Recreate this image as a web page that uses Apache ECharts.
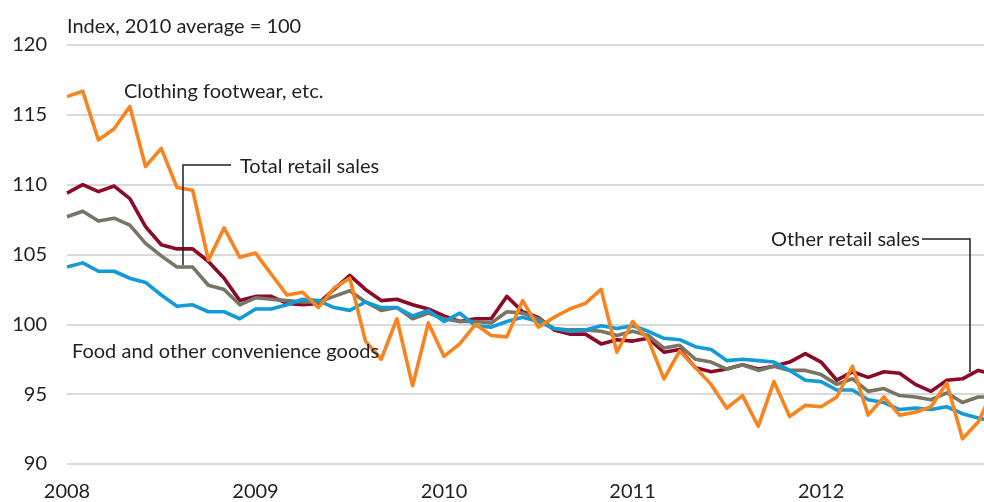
<!DOCTYPE html>
<html>
<head>
<meta charset="utf-8">
<script src="https://cdn.jsdelivr.net/npm/echarts@6/dist/echarts.min.js"></script>
<style>
html,body{margin:0;padding:0;background:#fff;}
#chart{width:984px;height:502px;}
</style>
</head>
<body>
<div id="chart"></div>
<script>
// Monthly index, Jan 2008 .. Dec 2012 (index 0..59)
const yearLabels = ['2008', '2009', '2010', '2011', '2012'];
const clothing = [116.3,116.7,113.2,114.0,115.6,111.3,112.6,109.8,109.6,104.6,106.9,104.8,
  105.1,103.6,102.1,102.3,101.2,102.6,103.3,98.8,97.5,100.4,95.6,100.1,
  97.7,98.6,100.0,99.2,99.1,101.7,99.8,100.5,101.1,101.5,102.5,98.0,
  100.2,98.9,96.1,98.1,96.9,95.7,94.0,94.9,92.7,95.9,93.4,94.2,
  94.1,94.8,97.0,93.5,94.8,93.5,93.7,94.1,95.8,91.8,93.0,95.4];
const otherRetail = [109.4,110.0,109.5,109.9,109.0,107.0,105.7,105.4,105.4,104.5,103.3,101.7,
  102.0,102.0,101.5,101.4,101.5,102.5,103.5,102.5,101.7,101.8,101.4,101.1,
  100.6,100.2,100.4,100.4,102.0,100.9,100.5,99.6,99.3,99.3,98.6,98.9,
  98.8,99.0,98.0,98.2,96.9,96.6,96.8,97.1,96.8,97.0,97.3,97.9,
  97.3,96.0,96.6,96.2,96.6,96.5,95.7,95.2,96.0,96.1,96.7,96.4];
const totalRetail = [107.7,108.1,107.4,107.6,107.1,105.8,104.9,104.1,104.1,102.8,102.5,101.4,
  101.9,101.8,101.7,101.6,101.6,102.0,102.4,101.6,101.0,101.2,100.4,100.8,
  100.4,100.2,100.2,100.1,100.9,100.8,100.4,99.7,99.6,99.6,99.5,99.2,
  99.5,99.2,98.3,98.5,97.5,97.3,96.8,97.1,96.7,97.0,96.7,96.7,
  96.4,95.7,96.1,95.2,95.4,94.9,94.8,94.6,95.1,94.4,94.8,94.8];
const food = [104.1,104.4,103.8,103.8,103.3,103.0,102.1,101.3,101.4,100.9,100.9,100.4,
  101.1,101.1,101.4,101.8,101.7,101.2,101.0,101.6,101.2,101.2,100.6,101.0,
  100.2,100.8,99.9,99.8,100.2,100.5,100.2,99.7,99.5,99.6,99.9,99.7,
  99.9,99.5,99.0,98.9,98.4,98.2,97.4,97.5,97.4,97.3,96.7,96.0,
  95.9,95.3,95.3,94.6,94.4,93.9,94.0,93.9,94.1,93.6,93.3,93.0];

const FONT = 'Lato';
const TXT = '#231f20';
const pairs = arr => arr.map((v, i) => [i, v]);

const chart = echarts.init(document.getElementById('chart'), null, {renderer: 'canvas'});

function mkSeries(name, data, color) {
  return {
    name, type: 'line', data: pairs(data), symbol: 'none', clip: true,
    lineStyle: {color, width: 3.6, join: 'round'}, itemStyle: {color},
    emphasis: {disabled: true}
  };
}

function txt(text, x, y, align) {
  return {type: 'text', x, y, z: 100,
    style: {text, fill: TXT, font: '20px ' + FONT, align: align || 'left', verticalAlign: 'middle'}};
}
function pl(points) {
  return {type: 'polyline', z: 100, shape: {points}, style: {stroke: TXT, lineWidth: 1.5, fill: null}};
}

chart.setOption({
  animation: false,
  textStyle: {fontFamily: FONT},
  grid: {left: 67, right: 0, top: 45, bottom: 37, containLabel: false},
  xAxis: {
    type: 'value', min: 0, max: 58.37, interval: 12,
    axisLine: {show: false}, axisTick: {show: false}, splitLine: {show: false},
    axisLabel: {
      color: TXT, fontSize: 20, fontFamily: FONT, margin: 18, showMaxLabel: false,
      formatter: v => (v % 12 === 0 ? yearLabels[v / 12] : '')
    }
  },
  yAxis: {
    type: 'value', min: 90, max: 120, interval: 5,
    axisLine: {show: false}, axisTick: {show: false},
    splitLine: {lineStyle: {color: '#d9d9d9', width: 2}},
    axisLabel: {color: TXT, fontSize: 20, fontFamily: FONT, margin: 20}
  },
  series: [
    mkSeries('Other retail sales', otherRetail, '#8a0a28'),
    mkSeries('Total retail sales', totalRetail, '#797564'),
    mkSeries('Food and other convenience goods', food, '#129bd7'),
    mkSeries('Clothing footwear, etc.', clothing, '#f7841f')
  ],
  graphic: [
    txt('Index, 2010 average = 100', 67, 27),
    txt('Clothing footwear, etc.', 124, 92),
    txt('Total retail sales', 240, 167),
    txt('Other retail sales', 920, 240, 'right'),
    txt('Food and other convenience goods', 72, 352),
    pl([[231, 165], [183, 165], [183, 265]]),
    pl([[922, 239], [970, 239], [970, 372]])
  ]
});
</script>
</body>
</html>
